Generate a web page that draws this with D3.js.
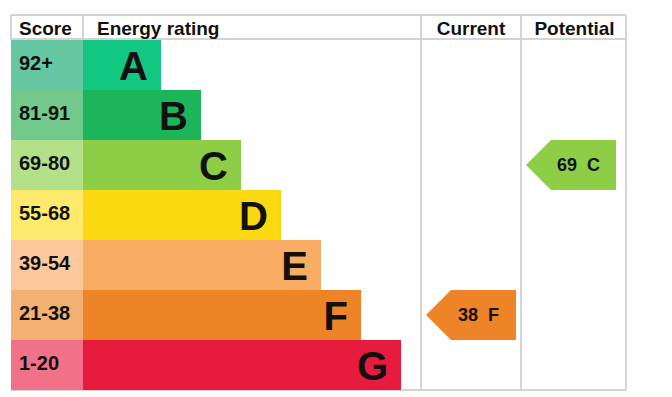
<!DOCTYPE html>
<html>
<head>
<meta charset="utf-8">
<script src="https://cdn.jsdelivr.net/npm/d3@7"></script>
<style>
  html, body { margin: 0; padding: 0; background: #fff; }
  svg { display: block; font-family: Arial, "Liberation Sans", sans-serif; }
</style>
</head>
<body>
<svg id="chart" width="672" height="397"></svg>
<script>
// bands, top to bottom
var bands = ["A", "B", "C", "D", "E", "F", "G"];
var scoreLabels = ["92+", "81-91", "69-80", "55-68", "39-54", "21-38", "1-20"];
var bandMin = [92, 81, 69, 55, 39, 21, 1];
var barColors = ["#12c781", "#1cb55a", "#8dce46", "#fbd910", "#f9ac64", "#ed8427", "#e71b3e"];
var scoreColors = ["#66c7a3", "#73c98c", "#b4e08a", "#fde96b", "#fcc99c", "#f2b073", "#f07188"];
var headers = ["Score", "Energy rating", "Current", "Potential"];
var current = 38;
var potential = 69;

var svg = d3.select("#chart");
// note: "top" is a read-only global in browsers, so use other names
var xLeft = 11, xRight = 626, yTop = 15, headH = 25, yBottom = 390;
var scoreRight = 83, curLeft = 421, potLeft = 521;
var lineColor = "#d4d4d4";

var y = d3.scaleBand().domain(bands).range([yTop + headH, yBottom]);
var barEnd = d3.scaleLinear().domain([0, bands.length - 1]).range([161, 401]);

var bandOf = function(v) {
    for (var i = 0; i < bandMin.length; i++) {
	if (v >= bandMin[i]) return i;
    }
    return bands.length - 1;
};

// grid
var grid = svg.append("g").attr("stroke", lineColor).attr("stroke-width", 2);
grid.append("line").attr("x1", xLeft).attr("x2", xRight).attr("y1", yTop).attr("y2", yTop);
grid.append("line").attr("x1", xLeft).attr("x2", xRight).attr("y1", yTop + headH - 1).attr("y2", yTop + headH - 1);
grid.append("line").attr("x1", xLeft).attr("x2", xRight).attr("y1", yBottom).attr("y2", yBottom);
grid.append("line").attr("x1", xLeft).attr("x2", xLeft).attr("y1", yTop).attr("y2", yTop + headH);
grid.append("line").attr("x1", scoreRight).attr("x2", scoreRight).attr("y1", yTop).attr("y2", yTop + headH);
grid.selectAll(".vline").data([curLeft, potLeft, xRight])
    .enter().append("line")
    .attr("class", "vline")
    .attr("x1", function(d) { return d; }).attr("x2", function(d) { return d; })
    .attr("y1", yTop).attr("y2", yBottom);

// header texts
var hx = [
    {x: 19, anchor: "start"},
    {x: 97, anchor: "start"},
    {x: (curLeft + potLeft) / 2, anchor: "middle"},
    {x: (potLeft + xRight) / 2 + 1, anchor: "middle"}
];
svg.selectAll(".head").data(headers)
    .enter().append("text")
    .attr("class", "head")
    .attr("x", function(d, i) { return hx[i].x; })
    .attr("y", yTop + 20)
    .attr("text-anchor", function(d, i) { return hx[i].anchor; })
    .attr("font-size", 19).attr("font-weight", "bold").attr("fill", "#111")
    .text(function(d) { return d; });

// rows
var row = svg.selectAll(".row").data(bands)
    .enter().append("g")
    .attr("class", "row")
    .attr("transform", function(d) { return "translate(0," + y(d) + ")"; });

row.append("rect")
    .attr("x", xLeft).attr("width", scoreRight - xLeft)
    .attr("height", y.bandwidth())
    .attr("fill", function(d, i) { return scoreColors[i]; });

row.append("rect")
    .attr("x", scoreRight)
    .attr("width", function(d, i) { return barEnd(i) - scoreRight; })
    .attr("height", y.bandwidth())
    .attr("fill", function(d, i) { return barColors[i]; });

row.append("text")
    .attr("x", 19).attr("y", 30)
    .attr("font-size", 20).attr("font-weight", "bold").attr("fill", "#111")
    .text(function(d, i) { return scoreLabels[i]; });

row.append("text")
    .attr("x", function(d, i) { return barEnd(i) - 13; })
    .attr("y", 40)
    .attr("text-anchor", "end")
    .attr("font-size", 40).attr("font-weight", "bold").attr("fill", "#111")
    .text(function(d) { return d; });

// arrows
var arrow = function(value, colLeft) {
    var i = bandOf(value);
    var h = y.bandwidth();
    var tip = colLeft + 5, body = tip + 25, end = tip + 90;
    var g = svg.append("g").attr("transform", "translate(0," + y(bands[i]) + ")");
    g.append("path")
	.attr("d", "M" + tip + "," + h / 2 + "L" + body + ",0L" + end + ",0L" + end + "," + h + "L" + body + "," + h + "Z")
	.attr("fill", barColors[i]);
    g.append("text")
	.attr("x", (body + end) / 2 - 5).attr("y", 31)
	.attr("text-anchor", "middle")
	.attr("font-size", 18).attr("font-weight", "bold").attr("fill", "#111")
	.style("white-space", "pre")
	.text(value + "  " + bands[i]);
};
arrow(current, curLeft);
arrow(potential, potLeft);
</script>
</body>
</html>
